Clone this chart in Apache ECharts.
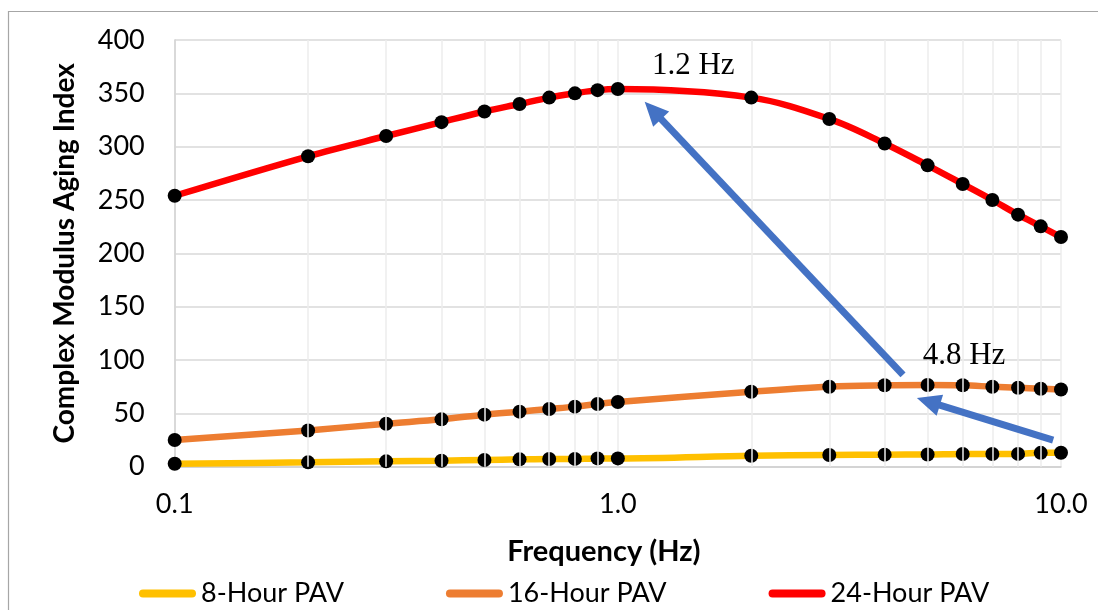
<!DOCTYPE html>
<html>
<head>
<meta charset="utf-8">
<script src="https://cdn.jsdelivr.net/npm/echarts@6/dist/echarts.min.js"></script>
<style>
  html, body { margin: 0; padding: 0; background: #fff; }
  #chart { width: 1098px; height: 610px; }
</style>
</head>
<body>
<div id="chart"></div>
<script>
// Frequency sweep (Hz) and complex modulus aging index per PAV aging duration
const frequencies = [0.1, 0.2, 0.3, 0.4, 0.5, 0.6, 0.7, 0.8, 0.9, 1.0, 2, 3, 4, 5, 6, 7, 8, 9, 10];
const pav8  = [2.8, 4.1, 5.0, 5.6, 6.3, 6.9, 7.2, 7.3, 7.8, 7.8, 10.3, 11.0, 11.3, 11.4, 11.9, 11.9, 12.0, 13.0, 13.1];
const pav16 = [25.0, 34.0, 40.3, 44.4, 48.8, 51.6, 54.1, 56.3, 58.8, 60.6, 70.3, 75.0, 76.3, 76.6, 76.3, 75.0, 74.0, 73.1, 72.3];
const pav24 = [254, 291, 310, 323, 333, 340, 346, 350, 353, 354, 346, 326, 303, 282.5, 265, 250, 236.3, 225.3, 215.3];

const seriesNames = ['8-Hour PAV', '16-Hour PAV', '24-Hour PAV'];
const seriesColors = ['#FFC000', '#ED7D31', '#FF0000'];

// Minor frequency gridlines inside each decade
const minorFreqs = [0.2, 0.3, 0.4, 0.5, 0.6, 0.7, 0.8, 0.9, 2, 3, 4, 5, 6, 7, 8, 9];

// Peak annotations: [from, to] in (Hz, index) and label anchors
const arrows = [
  [[4.4, 86], [1.2, 334]],
  [[9.6, 25], [5.02, 61]]
];
const peakLabels = [
  { text: '1.2 Hz', at: [1.48, 376] },
  { text: '4.8 Hz', at: [6.04, 104] }
];

const FONT = 'Lato, "Open Sans", sans-serif';
const SERIF = '"Liberation Serif", "DejaVu Serif", serif';

const chart = echarts.init(document.getElementById('chart'), null, { renderer: 'canvas' });

const lineSeries = [pav8, pav16, pav24].map((vals, i) => ({
  name: seriesNames[i],
  type: 'line',
  z: 3 + i,
  smooth: 0.35,
  data: frequencies.map((f, k) => [f, vals[k]]),
  symbol: 'circle',
  symbolSize: 14,
  showSymbol: true,
  lineStyle: { color: seriesColors[i], width: 6.5 },
  itemStyle: { color: '#000', borderWidth: 0 },
  emphasis: { disabled: true }
}));

const option = {
  animation: false,
  backgroundColor: '#fff',
  graphic: [{
    type: 'rect',
    shape: { x: 8.5, y: 11.5, width: 1300, height: 800 },
    style: { fill: 'none', stroke: '#a6a6a6', lineWidth: 1.2 },
    silent: true
  }],
  grid: { left: 174.7, right: 37, top: 40, bottom: 143.3, containLabel: false },
  legend: {
    data: seriesNames.map((n, i) => ({
      name: n,
      icon: 'path://M4,0 H53 A4,4 0 0 1 53,8 H4 A4,4 0 0 1 4,0 Z',
      itemStyle: { color: seriesColors[i] }
    })),
    left: 134,
    top: 575,
    itemWidth: 57,
    itemHeight: 8,
    itemGap: 102,
    textStyle: { fontFamily: FONT, fontSize: 27, color: '#000' },
    selectedMode: false
  },
  xAxis: {
    type: 'log',
    logBase: 10,
    min: 0.1,
    max: 10,
    name: 'Frequency (Hz)',
    nameLocation: 'middle',
    nameGap: 70,
    nameTextStyle: { fontFamily: FONT, fontSize: 29, fontWeight: 'bold', color: '#000', padding: [0, 28, 0, 0] },
    axisLine: { show: true, onZero: false, lineStyle: { color: '#d0d0d0', width: 1.5 } },
    axisTick: { show: false },
    axisLabel: {
      fontFamily: FONT, fontSize: 27, color: '#000', margin: 24,
      formatter: v => Number(v).toFixed(1)
    },
    splitLine: { show: true, lineStyle: { color: '#ececec', width: 1.5 } }
  },
  yAxis: {
    type: 'value',
    min: 0,
    max: 400,
    interval: 50,
    name: 'Complex Modulus Aging Index',
    nameLocation: 'middle',
    nameGap: 96,
    nameTextStyle: { fontFamily: FONT, fontSize: 28, fontWeight: 'bold', color: '#000' },
    axisLine: { show: true, lineStyle: { color: '#d0d0d0', width: 1.5 } },
    axisTick: { show: false },
    axisLabel: { fontFamily: FONT, fontSize: 27, color: '#000', margin: 30 },
    splitLine: { show: true, lineStyle: { color: '#d9d9d9', width: 1.5 } }
  },
  series: [
    {
      name: 'minor-grid',
      type: 'line',
      data: [],
      z: 1,
      silent: true,
      markLine: {
        silent: true,
        symbol: ['none', 'none'],
        label: { show: false },
        lineStyle: { color: '#ececec', width: 1.5, type: 'solid' },
        emphasis: { disabled: true },
        data: minorFreqs.map(f => ({ xAxis: f }))
      }
    },
    ...lineSeries,
    {
      name: 'annotations',
      type: 'line',
      data: [],
      z: 10,
      silent: true,
      markLine: {
        silent: true,
        symbol: ['none', 'triangle'],
        symbolSize: [22, 24],
        label: { show: false },
        lineStyle: { color: '#4472C4', width: 7, type: 'solid' },
        itemStyle: { color: '#4472C4' },
        emphasis: { disabled: true },
        data: arrows.map(([a, b]) => [{ coord: a }, { coord: b }])
      },
      markPoint: {
        silent: true,
        symbol: 'circle',
        symbolSize: 1,
        itemStyle: { color: 'rgba(0,0,0,0)' },
        label: {
          show: true,
          position: 'inside',
          fontFamily: SERIF,
          fontSize: 31,
          color: '#000'
        },
        data: peakLabels.map(p => ({ coord: p.at, value: p.text, label: { formatter: p.text } }))
      }
    }
  ]
};

chart.setOption(option);
</script>
</body>
</html>
